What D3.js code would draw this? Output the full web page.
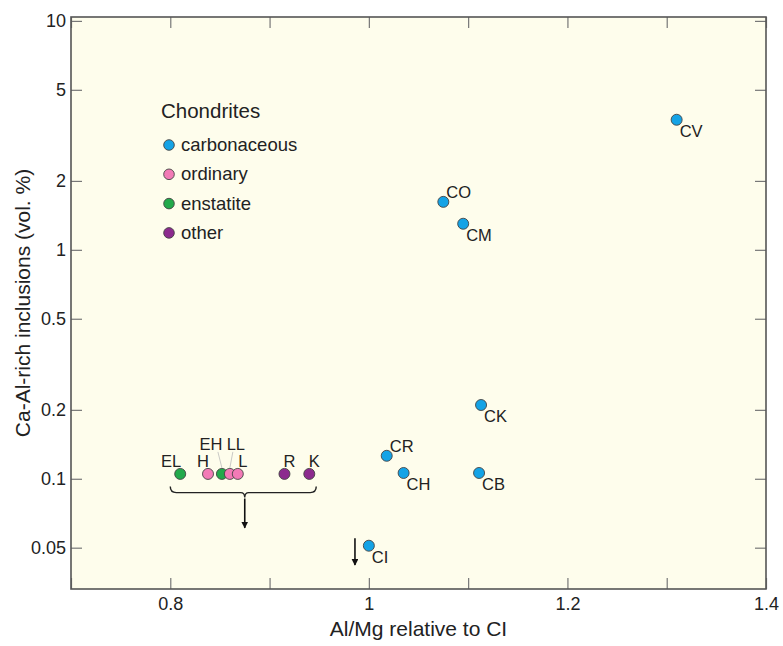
<!DOCTYPE html>
<html>
<head>
<meta charset="utf-8">
<script src="https://cdn.jsdelivr.net/npm/d3@7"></script>
<style>
  body { margin: 0; background: #fff; }
  text { font-family: "Liberation Sans", Arial, Helvetica, sans-serif; fill: #222; }
</style>
</head>
<body>
<div id="chart"></div>
<script>
// chondrite groups: name, Al/Mg relative to CI, CAI vol. %, class
let names = ['CV', 'CO', 'CM', 'CR', 'CH', 'CB', 'CK', 'CI',
             'EL', 'H', 'EH', 'LL', 'L', 'R', 'K']
let alMg = [1.31, 1.075, 1.095, 1.018, 1.035, 1.111, 1.113, 1.0,
            0.81, 0.838, 0.852, 0.86, 0.868, 0.915, 0.94]
let cai = [3.7, 1.62, 1.3, 0.126, 0.106, 0.106, 0.21, 0.051,
           0.105, 0.105, 0.105, 0.105, 0.105, 0.105, 0.105]
let kinds = ['carbonaceous', 'carbonaceous', 'carbonaceous', 'carbonaceous',
             'carbonaceous', 'carbonaceous', 'carbonaceous', 'carbonaceous',
             'enstatite', 'ordinary', 'enstatite', 'ordinary', 'ordinary', 'other', 'other']
// where the label sits: 'below' = lower right, 'above' = upper right, 'top' = over the dot, 'high' = raised with leader
let labelPos = ['below', 'above', 'below', 'above', 'below', 'below', 'below', 'below',
                'topL', 'top', 'high', 'high', 'top', 'top', 'top']

let legendKinds = ['carbonaceous', 'ordinary', 'enstatite', 'other']
let kindColors = ['#14a3e6', '#f27ab6', '#22a94b', '#8c2a8e']

let xTicks = [0.7, 0.8, 0.9, 1.0, 1.1, 1.2, 1.3, 1.4]
let xLabelled = [0.8, 1.0, 1.2, 1.4]
let yTicks = [10, 5, 2, 1, 0.5, 0.2, 0.1, 0.05]

window.addEventListener('load', () => {
  const W = 783, H = 646
  const mLeft = 71, mRight = 766, mTop = 17, mBottom = 589

  let svg = d3.select('#chart').append('svg')
    .attr('width', W)
    .attr('height', H)

  let x = d3.scaleLinear().domain([0.7, 1.4]).range([mLeft, mRight])
  let y = d3.scaleLog().domain([0.033, 10.4]).range([mBottom, mTop])
  let color = d3.scaleOrdinal().domain(legendKinds).range(kindColors)

  // plot area
  svg.append('rect')
    .attr('x', mLeft).attr('y', mTop)
    .attr('width', mRight - mLeft).attr('height', mBottom - mTop)
    .attr('fill', '#fefdec')

  function styleAxis(g) {
    g.select('.domain').remove()
    g.selectAll('.tick line').attr('stroke', '#777').attr('stroke-width', 1.2)
    g.selectAll('.tick text').attr('font-size', 18).attr('fill', '#222')
      .attr('font-family', '"Liberation Sans", Arial, sans-serif')
  }

  let fmtX = d => xLabelled.some(v => Math.abs(v - d) < 1e-9) ? d3.format('~g')(d) : ''

  svg.append('g')
    .attr('transform', `translate(0,${mBottom})`)
    .call(d3.axisBottom(x).tickValues(xTicks).tickSize(-11).tickPadding(8).tickFormat(fmtX))
    .call(styleAxis)

  svg.append('g')
    .attr('transform', `translate(0,${mTop})`)
    .call(d3.axisTop(x).tickValues(xTicks).tickSize(-11).tickFormat(''))
    .call(styleAxis)

  svg.append('g')
    .attr('transform', `translate(${mLeft},0)`)
    .call(d3.axisLeft(y).tickValues(yTicks).tickSize(-11).tickPadding(5).tickFormat(d3.format('~g')))
    .call(styleAxis)

  svg.append('g')
    .attr('transform', `translate(${mRight},0)`)
    .call(d3.axisRight(y).tickValues(yTicks).tickSize(-11).tickFormat(''))
    .call(styleAxis)

  // frame
  svg.append('rect')
    .attr('x', mLeft).attr('y', mTop)
    .attr('width', mRight - mLeft).attr('height', mBottom - mTop)
    .attr('fill', 'none')
    .attr('stroke', '#555')
    .attr('stroke-width', 1.6)

  // axis titles
  svg.append('text')
    .attr('x', (mLeft + mRight) / 2).attr('y', 636)
    .attr('text-anchor', 'middle')
    .attr('font-size', 21)
    .text('Al/Mg relative to CI')

  svg.append('text')
    .attr('transform', `translate(30,${(mTop + mBottom) / 2}) rotate(-90)`)
    .attr('text-anchor', 'middle')
    .attr('font-size', 21)
    .text('Ca-Al-rich inclusions (vol. %)')

  // bracket and arrows for upper limits
  let bracket = { x0: 0.8, x1: 0.947, xc: 0.875, v: 0.087 }
  let bx0 = x(bracket.x0), bx1 = x(bracket.x1), bxc = x(bracket.xc), by = y(bracket.v)
  svg.append('path')
    .attr('d', `M${bx0},${by - 6} Q${bx0},${by} ${bx0 + 6},${by} L${bxc - 4},${by} Q${bxc},${by} ${bxc},${by + 5}` +
      ` Q${bxc},${by} ${bxc + 4},${by} L${bx1 - 6},${by} Q${bx1},${by} ${bx1},${by - 6}`)
    .attr('fill', 'none').attr('stroke', '#222').attr('stroke-width', 1.4)

  svg.append('defs').append('marker')
    .attr('id', 'head').attr('viewBox', '0 0 10 10')
    .attr('refX', 9).attr('refY', 5)
    .attr('markerWidth', 7).attr('markerHeight', 7)
    .attr('markerUnits', 'userSpaceOnUse')
    .attr('orient', 'auto')
    .append('path').attr('d', 'M0,0 L10,5 L0,10 z').attr('fill', '#111')

  let arrows = [
    { xv: 0.875, from: 0.082, to: 0.061 },
    { xv: 0.986, from: 0.055, to: 0.042 }
  ]
  svg.selectAll('line.arrow').data(arrows).join('line')
    .attr('class', 'arrow')
    .attr('x1', d => x(d.xv)).attr('x2', d => x(d.xv))
    .attr('y1', d => y(d.from)).attr('y2', d => y(d.to))
    .attr('stroke', '#111').attr('stroke-width', 1.6)
    .attr('marker-end', 'url(#head)')

  // points
  let pts = names.map((n, i) => ({ name: n, x: alMg[i], y: cai[i], kind: kinds[i], pos: labelPos[i] }))

  // leader lines for crowded labels
  pts.filter(d => d.pos === 'high').forEach(d => {
    let px = x(d.x), py = y(d.y)
    let lx = d.name === 'EH' ? px - 4 : px + 3
    svg.append('line')
      .attr('x1', lx).attr('y1', py - 22)
      .attr('x2', px).attr('y2', py - 6)
      .attr('stroke', '#bbb').attr('stroke-width', 0.8)
  })

  svg.selectAll('circle.pt').data(pts).join('circle')
    .attr('class', 'pt')
    .attr('cx', d => x(d.x)).attr('cy', d => y(d.y))
    .attr('r', 5.5)
    .attr('fill', d => color(d.kind))
    .attr('stroke', '#444').attr('stroke-width', 0.9)

  svg.selectAll('text.lbl').data(pts).join('text')
    .attr('class', 'lbl')
    .attr('font-size', 16.5)
    .attr('text-anchor', d => d.pos === 'below' || d.pos === 'above' ? 'start' : 'middle')
    .attr('x', d => {
      let px = x(d.x)
      if (d.pos === 'below' || d.pos === 'above') return px + 3
      if (d.pos === 'topL') return px - 9
      if (d.pos === 'high') return d.name === 'EH' ? px - 11 : px + 6
      if (d.name === 'H') return px - 5
      return px + 5
    })
    .attr('y', d => {
      let py = y(d.y)
      if (d.pos === 'below') return py + 17
      if (d.pos === 'above') return py - 4
      if (d.pos === 'high') return py - 24
      return py - 7
    })
    .text(d => d.name)

  // legend
  let lg = svg.append('g').attr('transform', 'translate(161,118)')
  lg.append('text').attr('x', 0).attr('y', 0).attr('font-size', 20.5).text('Chondrites')
  let items = lg.selectAll('g.item').data(legendKinds).join('g')
    .attr('class', 'item')
    .attr('transform', (d, i) => `translate(0,${27 + i * 29.3})`)
  items.append('circle')
    .attr('cx', 8).attr('cy', 0).attr('r', 5.3)
    .attr('fill', d => color(d))
    .attr('stroke', '#444').attr('stroke-width', 0.9)
  items.append('text')
    .attr('x', 20).attr('y', 6)
    .attr('font-size', 18.5)
    .text(d => d)
})
</script>
</body>
</html>
